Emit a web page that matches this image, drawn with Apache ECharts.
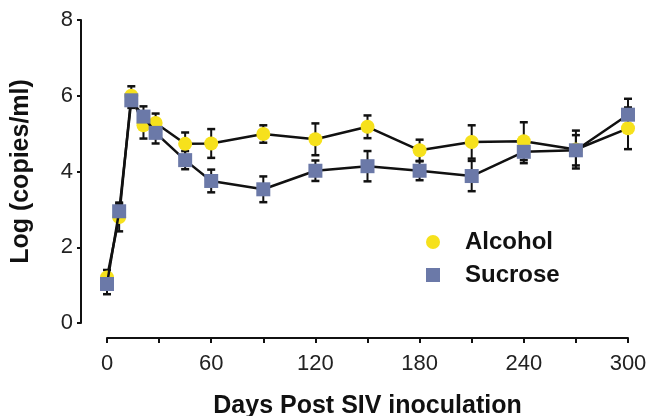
<!DOCTYPE html>
<html>
<head>
<meta charset="utf-8">
<script src="https://cdn.jsdelivr.net/npm/echarts@6/dist/echarts.min.js"></script>
<style>html,body{margin:0;padding:0;background:#fff;}#c{width:654px;height:416px;}</style>
</head>
<body>
<div id="c"></div>
<script>
var days = [0, 7, 14, 21, 28, 45, 60, 90, 120, 150, 180, 210, 240, 270, 300];
var alcohol = [1.2, 2.8, 6.0, 5.22, 5.28, 4.73, 4.74, 4.99, 4.85, 5.18, 4.56, 4.78, 4.8, 4.58, 5.14];
var alcoholErr = [0.2, 0.38, 0.25, 0.35, 0.25, 0.3, 0.38, 0.23, 0.42, 0.3, 0.28, 0.44, 0.5, 0.5, 0.55];
var sucrose = [1.03, 2.95, 5.88, 5.45, 5.02, 4.3, 3.75, 3.53, 4.02, 4.14, 4.02, 3.88, 4.52, 4.56, 5.5];
var sucroseErr = [0.27, 0.2, 0.2, 0.27, 0.28, 0.24, 0.3, 0.34, 0.27, 0.4, 0.25, 0.4, 0.3, 0.4, 0.42];
var yTicks = [0, 2, 4, 6, 8];
var xLabelTicks = [0, 60, 120, 180, 240, 300];

var YELLOW = '#f6e11c';
var BLUE = '#6b79a8';

function errData(mean, err) {
  return days.map(function (d, i) { return [d, mean[i] - err[i], mean[i] + err[i]]; });
}
function renderErr(params, api) {
  var x = api.value(0);
  var lo = api.coord([x, api.value(1)]);
  var hi = api.coord([x, api.value(2)]);
  var w = 4;
  return {
    type: 'group',
    children: [
      { type: 'line', shape: { x1: lo[0], y1: lo[1], x2: hi[0], y2: hi[1] }, style: { stroke: '#111', lineWidth: 2 } },
      { type: 'line', shape: { x1: lo[0] - w, y1: lo[1], x2: lo[0] + w, y2: lo[1] }, style: { stroke: '#111', lineWidth: 2.5 } },
      { type: 'line', shape: { x1: hi[0] - w, y1: hi[1], x2: hi[0] + w, y2: hi[1] }, style: { stroke: '#111', lineWidth: 2.5 } }
    ]
  };
}

var chart = echarts.init(document.getElementById('c'), null, { renderer: 'canvas' });
chart.setOption({
  animation: false,
  backgroundColor: '#ffffff',
  textStyle: { fontFamily: 'Liberation Sans, Arial, sans-serif' },
  grid: { left: 107, right: 26, top: 20, bottom: 93, containLabel: false, outerBoundsMode: 'none' },
  legend: {
    left: 426, top: 230, padding: 0, orient: 'vertical', itemWidth: 14, itemHeight: 14, itemGap: 9,
    textStyle: { fontSize: 24, fontWeight: 'bold', color: '#111', lineHeight: 24, padding: [0, 0, 0, 20], fontFamily: 'Liberation Sans, Arial, sans-serif' },
    data: [
      { name: 'Alcohol', icon: 'circle', itemStyle: { color: YELLOW, borderWidth: 0 } },
      { name: 'Sucrose', icon: 'rect', itemStyle: { color: BLUE, borderWidth: 0 } }
    ]
  },
  xAxis: {
    type: 'value', min: 0, max: 300, interval: 30, offset: 15,
    name: 'Days Post SIV inoculation', nameLocation: 'middle', nameGap: 56,
    nameTextStyle: { fontSize: 25, fontWeight: 'bold', color: '#111' },
    axisLine: { show: true, onZero: false, lineStyle: { color: '#111', width: 2 } },
    axisTick: { show: true, length: 5, lineStyle: { color: '#111', width: 2 } },
    axisLabel: {
      fontSize: 22, color: '#222', margin: 15,
      formatter: function (v) { return xLabelTicks.indexOf(v) >= 0 ? String(v) : ''; }
    },
    splitLine: { show: false }
  },
  yAxis: {
    type: 'value', min: 0, max: 8, interval: 2, offset: 26,
    name: 'Log (copies/ml)', nameLocation: 'middle', nameGap: 47,
    nameTextStyle: { fontSize: 25, fontWeight: 'bold', color: '#111' },
    axisLine: { show: true, onZero: false, lineStyle: { color: '#111', width: 2 } },
    axisTick: { show: true, length: 4, lineStyle: { color: '#111', width: 2 } },
    axisLabel: {
      fontSize: 22, color: '#222', margin: 8,
      formatter: function (v) { return yTicks.indexOf(v) >= 0 ? String(v) : ''; }
    },
    splitLine: { show: false }
  },
  series: [
    { type: 'custom', name: 'AlcoholErr', renderItem: renderErr, data: errData(alcohol, alcoholErr), encode: { x: 0, y: [1, 2] }, z: 1, silent: true },
    { type: 'custom', name: 'SucroseErr', renderItem: renderErr, data: errData(sucrose, sucroseErr), encode: { x: 0, y: [1, 2] }, z: 1, silent: true },
    {
      type: 'line', name: 'Alcohol', data: days.map(function (d, i) { return [d, alcohol[i]]; }),
      symbol: 'circle', symbolSize: 14, z: 2,
      lineStyle: { color: '#111', width: 2.5 },
      itemStyle: { color: YELLOW, borderWidth: 0 }
    },
    {
      type: 'line', name: 'Sucrose', data: days.map(function (d, i) { return [d, sucrose[i]]; }),
      symbol: 'rect', symbolSize: 14, z: 3,
      lineStyle: { color: '#111', width: 2.5 },
      itemStyle: { color: BLUE, borderWidth: 0 }
    }
  ]
});
</script>
</body>
</html>
